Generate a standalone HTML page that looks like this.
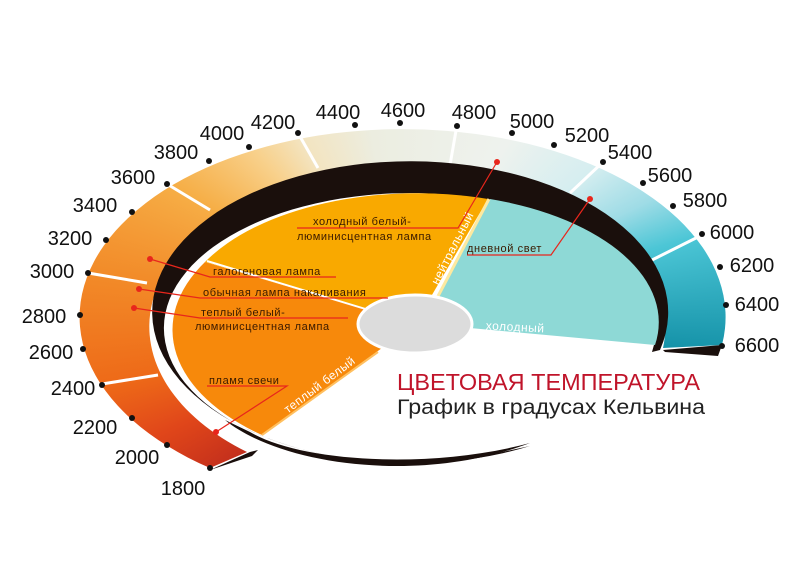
<!DOCTYPE html>
<html><head><meta charset="utf-8"><style>
html,body{margin:0;padding:0;background:#fff;}
#w{position:relative;width:800px;height:588px;overflow:hidden;background:#fff;}
#band{position:absolute;left:0;top:0;width:800px;height:588px;
background:conic-gradient(from 230deg at 405px 320px,#c22e1c 0deg,#e0461a 15deg,#ee6a18 28deg,#f28a28 48deg,#f6ae46 70deg,#f8d08a 88deg,#f3e4c0 100deg,#ecede0 120deg,#eef2ee 160deg,#d6eef0 181deg,#9fdce6 194deg,#4cc6d6 204deg,#1592a8 226deg,#1592a8 360deg);
clip-path:path('M 210 468 A 323 188 0 1 1 722 345 L 663 348 A 258 160 0 1 0 247 452 Z');}
svg{position:absolute;left:0;top:0;}
text{font-family:"Liberation Sans",sans-serif;}
.n{font-size:20px;fill:#111;text-anchor:middle;}
.l{font-size:11px;fill:#3a1a00;letter-spacing:0.6px;}
</style></head><body><div id="w">
<div id="band"></div>
<svg width="800" height="588" viewBox="0 0 800 588">
<g stroke="#fff" stroke-width="3">
<line x1="102" y1="384" x2="158" y2="375"/>
<line x1="88" y1="273" x2="147" y2="283"/>
<line x1="167" y1="184" x2="210" y2="210"/>
<line x1="298" y1="133" x2="318" y2="168"/>
<line x1="457" y1="125" x2="450" y2="165"/>
<line x1="603" y1="162" x2="570" y2="193"/>
<line x1="702" y1="235" x2="652" y2="260"/>
</g>
<!-- black ring -->
<path d="M 660 350 A 258 151 0 1 0 530 446 L 470 459 A 246 135 0 1 1 652 352 Z" fill="#1a0f0c"/>
<path d="M 225 420 C 280 465, 420 485, 530 443 C 430 470, 300 462, 250 432 Z" fill="#1a0f0c"/>
<polygon points="210,470 250,452 258,450 252,456" fill="#1a0f0c"/>
<polygon points="663,350 722,345 718,356 665,352" fill="#1a0f0c"/>
<!-- fan -->
<path d="M 415 324 L 205 262 A 240 135 0 0 0 262 435 Z" fill="#f7890b"/>
<path d="M 415 324 L 205 262 A 240 129 0 0 1 488 199 Z" fill="#f9a900"/>
<path d="M 436 300 L 490 199 A 240 129 0 0 1 655 345 L 470 328 Z" fill="#8ed9d6"/>
<line x1="415" y1="324" x2="207" y2="261" stroke="#fff" stroke-width="2"/>
<line x1="436" y1="300" x2="489" y2="199" stroke="#fde9a0" stroke-width="3"/>
<line x1="378" y1="352" x2="262" y2="435" stroke="#ffc060" stroke-width="2"/>
<ellipse cx="415" cy="324" rx="57" ry="29" fill="#dcdcdc" stroke="#fff" stroke-width="3"/>
<text x="0" y="0" font-size="12" fill="#fff" text-anchor="middle" transform="translate(322,388) rotate(-37)" letter-spacing="0.5">теплый белый</text>
<text x="0" y="0" font-size="12" fill="#fff" text-anchor="middle" transform="translate(456,250) rotate(-63)" letter-spacing="0.5">нейтральный</text>
<text x="0" y="0" font-size="12" fill="#fff" text-anchor="middle" transform="translate(515,331) rotate(3)" letter-spacing="0.5">холодный</text>
<!-- connectors -->
<g stroke="#e8261c" stroke-width="1.2" fill="none">
<polyline points="297,228 458,228 497,162"/>
<polyline points="467,255 551,255 590,199"/>
<polyline points="150,259 210,277 336,277"/>
<polyline points="139,289 200,298 388,298"/>
<polyline points="134,308 200,318 348,318"/>
<polyline points="207,386 287,386 216,432"/>
</g>
<g fill="#e8261c">
<circle cx="497" cy="162" r="3"/><circle cx="590" cy="199" r="3"/><circle cx="150" cy="259" r="3"/>
<circle cx="139" cy="289" r="3"/><circle cx="134" cy="308" r="3"/><circle cx="216" cy="432" r="3"/>
</g>
<text class="l" x="313" y="225">холодный белый-</text>
<text class="l" x="297" y="240">люминисцентная лампа</text>
<text class="l" x="467" y="252">дневной свет</text>
<text class="l" x="213" y="275">галогеновая лампа</text>
<text class="l" x="203" y="296">обычная лампа накаливания</text>
<text class="l" x="201" y="316">теплый белый-</text>
<text class="l" x="195" y="330">люминисцентная лампа</text>
<text class="l" x="209" y="384">пламя свечи</text>
<!-- dots -->
<g fill="#111">
<circle cx="210" cy="468" r="3"/><circle cx="167" cy="445" r="3"/><circle cx="132" cy="418" r="3"/>
<circle cx="102" cy="385" r="3"/><circle cx="83" cy="349" r="3"/><circle cx="80" cy="315" r="3"/>
<circle cx="88" cy="273" r="3"/><circle cx="106" cy="240" r="3"/><circle cx="132" cy="212" r="3"/>
<circle cx="167" cy="184" r="3"/><circle cx="209" cy="161" r="3"/><circle cx="249" cy="147" r="3"/>
<circle cx="298" cy="133" r="3"/><circle cx="355" cy="125" r="3"/><circle cx="400" cy="123" r="3"/>
<circle cx="457" cy="126" r="3"/><circle cx="512" cy="133" r="3"/><circle cx="554" cy="145" r="3"/>
<circle cx="603" cy="162" r="3"/><circle cx="643" cy="183" r="3"/><circle cx="673" cy="206" r="3"/>
<circle cx="702" cy="234" r="3"/><circle cx="720" cy="267" r="3"/><circle cx="726" cy="305" r="3"/>
<circle cx="722" cy="346" r="3"/>
</g>
<text class="n" x="183" y="495">1800</text>
<text class="n" x="137" y="464">2000</text>
<text class="n" x="95" y="434">2200</text>
<text class="n" x="73" y="395">2400</text>
<text class="n" x="51" y="359">2600</text>
<text class="n" x="44" y="323">2800</text>
<text class="n" x="52" y="278">3000</text>
<text class="n" x="70" y="245">3200</text>
<text class="n" x="95" y="212">3400</text>
<text class="n" x="133" y="184">3600</text>
<text class="n" x="176" y="159">3800</text>
<text class="n" x="222" y="140">4000</text>
<text class="n" x="273" y="129">4200</text>
<text class="n" x="338" y="119">4400</text>
<text class="n" x="403" y="117">4600</text>
<text class="n" x="474" y="119">4800</text>
<text class="n" x="532" y="128">5000</text>
<text class="n" x="587" y="142">5200</text>
<text class="n" x="630" y="159">5400</text>
<text class="n" x="670" y="182">5600</text>
<text class="n" x="705" y="207">5800</text>
<text class="n" x="732" y="239">6000</text>
<text class="n" x="752" y="272">6200</text>
<text class="n" x="757" y="311">6400</text>
<text class="n" x="757" y="352">6600</text>
<text x="397" y="390" font-size="23" fill="#c0142a" textLength="303" lengthAdjust="spacingAndGlyphs">ЦВЕТОВАЯ ТЕМПЕРАТУРА</text>
<text x="397" y="414" font-size="21" fill="#222" textLength="308" lengthAdjust="spacingAndGlyphs">График в градусах Кельвина</text>
</svg>
</div></body></html>
